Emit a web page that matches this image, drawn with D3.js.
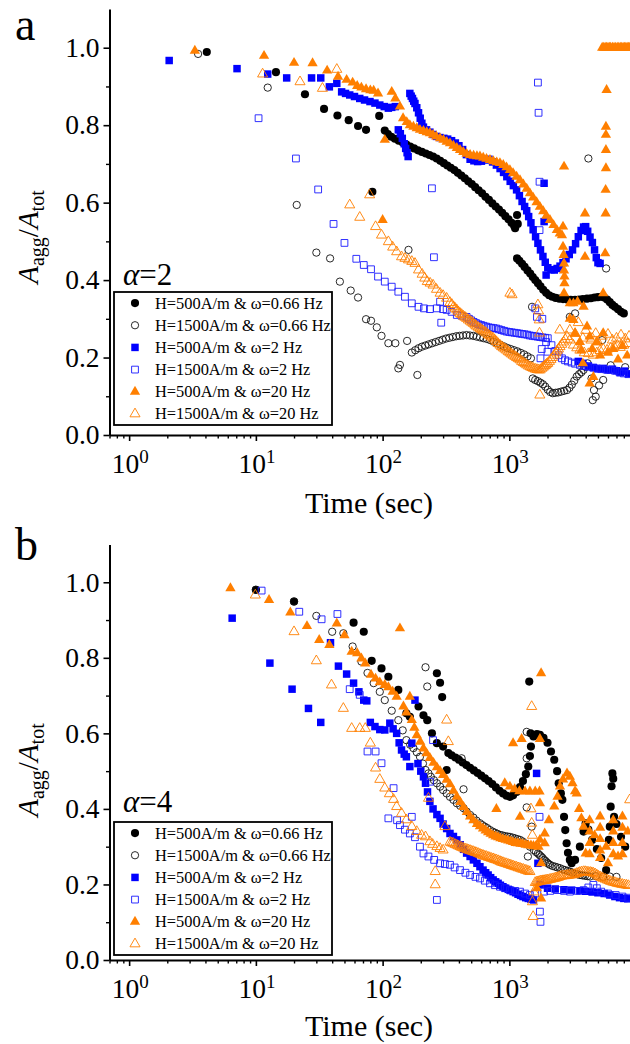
<!DOCTYPE html>
<html>
<head>
<meta charset="utf-8">
<script src="https://cdn.jsdelivr.net/npm/d3@7"></script>
<style>
body { margin: 0; background: #fff; }
svg { display: block; font-family: "Liberation Serif", "Times New Roman", serif; }
</style>
</head>
<body>
<svg width="630" height="1044"></svg>
<script>
// ---- data: [time (sec), A_agg/A_tot] ----

// panel a (alpha = 2)
const a_h500_w066 = [
  [4.1,0.989],[14.4,0.937],[24.4,0.880],[34.5,0.842],[44,0.825],[54,0.813],[64,0.798],[74,0.788],[83,0.628],[94,0.824],[104,0.786],
  [110,0.777],[117,0.770],[125,0.765],[134,0.760],[144,0.755],[154,0.750],[165,0.745],[177,0.740],[190,0.735],[204,0.731],[219,0.727],[234,0.723],[250,0.719],[267,0.714],[285,0.708],[304,0.702],[324,0.696],[345,0.690],[368,0.684],[392,0.677],[418,0.670],[445,0.663],[474,0.655],[505,0.648],[537,0.640],[572,0.632],[609,0.624],[648,0.615],[690,0.607],[734,0.598],[780,0.590],[828,0.582],[878,0.574],[930,0.565],[985,0.557],[1040,0.548],[1090,0.540],[1110,0.534],[1150,0.568],[1165,0.545],
  [1150,0.456],[1200,0.450],[1260,0.442],[1320,0.434],[1390,0.425],[1460,0.417],[1530,0.408],[1600,0.400],[1680,0.392],[1760,0.384],[1850,0.375],[1950,0.367],[2060,0.361],[2180,0.357],[2320,0.354],[2480,0.352],[2650,0.351],[2850,0.350],[3050,0.349],[3300,0.349],[3550,0.350],[3800,0.351],[4100,0.352],[4400,0.353],[4700,0.355],[5000,0.356],[5300,0.357],[5600,0.355],[5900,0.350],[6200,0.343],[6500,0.336],[6800,0.331],[7200,0.325],[7600,0.318],[8000,0.314]
];
const a_h1500_w066 = [
  [3.5,0.984],[12.4,0.897],[21,0.594],[30,0.471],[38.5,0.456],[46,0.396],[56,0.373],[64,0.355],[74,0.299],[81,0.295],[90,0.278],[98,0.256],[111,0.237],[126,0.237],[133,0.172],[137,0.181],[156,0.243],[160,0.478],[188,0.155],
  [170,0.213],[181,0.219],[192,0.224],[204,0.228],[217,0.231],[231,0.234],[246,0.237],[262,0.240],[279,0.243],[297,0.246],[316,0.249],[336,0.251],[358,0.253],[381,0.255],[405,0.256],[431,0.257],[459,0.258],[488,0.257],[519,0.256],[552,0.254],[587,0.252],[624,0.250],[664,0.248],[706,0.245],[751,0.241],[799,0.237],[850,0.233],[904,0.229],[961,0.225],[1022,0.222],[1087,0.219],[1156,0.216],[1230,0.212],[1308,0.208],[1391,0.203],[1480,0.198],
  [1510,0.331],[1530,0.146],[1600,0.142],[1680,0.139],[1760,0.135],[1840,0.131],[1920,0.125],[2010,0.117],[2100,0.111],[2200,0.108],[2310,0.109],[2430,0.110],[2560,0.112],[2700,0.114],[2850,0.116],[2980,0.122],[3110,0.130],[3250,0.140],[3400,0.151],[3550,0.157],[3700,0.162],[3850,0.168],[4000,0.176],[4150,0.185],
  [3000,0.305],[3300,0.314],[4200,0.714],[4450,0.146],[4550,0.090],[4650,0.116],[4800,0.099],[5100,0.128],[5500,0.142],[5400,0.245],[5800,0.430],[6300,0.180],[7200,0.165],[8200,0.175]
];
const a_h500_w2 = [
  [2.07,0.967],[7.1,0.946],[12.4,0.932],[17.5,0.922],[27.5,0.922],[32.5,0.922],[38,0.899],[43.5,0.908],[47.5,0.886],[51,0.882],[55,0.878],[60,0.874],[66,0.869],[72,0.865],[79.5,0.861],[87,0.857],[95,0.852],[103,0.848],[111,0.844],[118,0.846],[126,0.848],
  [133,0.788],[138,0.778],[143,0.766],[148,0.752],[152,0.740],[156,0.729],[159,0.719],
  [164,0.882],[168,0.875],[172,0.869],[176,0.862],[180,0.856],[186,0.845],[192,0.832],[198,0.818],[204,0.805],
  [210,0.795],[222,0.788],[236,0.782],[250,0.776],[266,0.771],[284,0.768],[304,0.766],[326,0.764],[350,0.760],[375,0.754],[400,0.747],[428,0.737],[458,0.724],[490,0.712],[525,0.708],[562,0.706],[602,0.707],[645,0.710],[690,0.712],[738,0.705],[790,0.697],[845,0.688],[900,0.678],[955,0.667],[1015,0.655],[1075,0.644],[1140,0.633],[1200,0.618],[1260,0.603],[1320,0.590],[1370,0.579],[1420,0.564],[1480,0.548],[1540,0.530],[1610,0.512],[1680,0.495],[1760,0.478],[1840,0.461],[1920,0.446],[2010,0.432],[2130,0.427],[2260,0.426],[2380,0.430],[2510,0.436],[2650,0.445],[2800,0.455],[2970,0.466],[3150,0.478],[3330,0.494],[3500,0.512],[3680,0.528],[3850,0.537],[4000,0.538],[4150,0.526],[4330,0.511],[4520,0.497],[4700,0.478],[4850,0.458],[5000,0.445],[5200,0.443],
  [1880,0.650],[1880,0.551],[1950,0.413],
  [3500,0.190],[3800,0.185],[4200,0.178],[4600,0.174],[5000,0.171],[5500,0.172],[6000,0.168],[6500,0.170],[7000,0.166],[7500,0.161],[8100,0.165],[8700,0.158]
];
const a_h1500_w2 = [
  [10.5,0.818],[20.7,0.714],[31,0.634],[41,0.545],[50,0.496],[62,0.455],[71,0.439],[81,0.428],[92,0.409],[104,0.396],[118,0.383],[133,0.370],[150,0.357],[170,0.340],[192,0.331],[212,0.327],[236,0.325],[245,0.637],[254,0.459],[268,0.327],[284,0.344],[290,0.290],[300,0.325],[320,0.323],[350,0.318],[385,0.310],[420,0.308],[460,0.305],
  [480,0.300],[500,0.296],[522,0.292],[545,0.289],[570,0.286],[597,0.284],[625,0.282],[655,0.280],[686,0.278],[718,0.277],[752,0.276],[788,0.275],[826,0.273],[866,0.271],[908,0.269],[952,0.267],[998,0.266],[1046,0.265],[1096,0.264],[1148,0.263],[1203,0.262],[1260,0.261],[1320,0.260],[1383,0.259],[1450,0.257],[1520,0.256],[1593,0.255],[1670,0.254],[1750,0.253],[1834,0.252],[1922,0.251],[2010,0.250],
  [1600,0.327],[1650,0.305],[1680,0.910],[1700,0.832],[1730,0.654],[1730,0.529],[1760,0.198],[1800,0.222],[1820,0.300],[1950,0.240],[2000,0.215],
  [2150,0.232],[2300,0.217],[2450,0.206],[2600,0.198],[2750,0.193],[2900,0.190],[3100,0.187],[3300,0.184],[3600,0.181],[3900,0.178],[4200,0.176],[4600,0.174],[4900,0.172],[5300,0.170],[5800,0.169],[6300,0.168],[6800,0.166],[7400,0.162],[8000,0.159],[8700,0.157]
];
const a_h500_w20 = [
  [3.3,0.992],[11.6,0.979],[20,0.961],[28,0.960],[36.5,0.941],[44.5,0.925],[52,0.917],[58,0.910],[63,0.901],[68,0.897],[74,0.893],[80,0.890],[85,0.889],[92,0.882],[100,0.555],[104,0.762],[118,0.886],[126,0.869],[137,0.848],[145,0.818],
  [155,0.808],[164,0.800],[175,0.796],[186,0.792],[197,0.788],[210,0.785],[223,0.782],[236,0.779],[250,0.775],[265,0.771],[284,0.766],[302,0.762],[320,0.757],[340,0.753],[362,0.747],[385,0.741],[408,0.736],[433,0.731],[460,0.726],[490,0.723],[522,0.721],[555,0.720],[586,0.719],[622,0.716],[660,0.713],[703,0.710],[748,0.707],[795,0.704],[843,0.702],[895,0.697],[950,0.691],[1010,0.684],[1070,0.676],[1140,0.667],[1213,0.658],[1290,0.647],[1370,0.636],[1453,0.624],[1540,0.613],[1640,0.601],[1742,0.589],[1850,0.578],[1960,0.566],[2090,0.555],[2230,0.542],[2370,0.529],[2500,0.520],[2600,0.516],
  [2650,0.538],[2700,0.693],[2650,0.486],[2680,0.465],[2700,0.443],[2700,0.425],[2720,0.409],[2720,0.392],[2700,0.366],[3000,0.340],[3200,0.340],[3450,0.344],[3200,0.297],[3300,0.262],[3950,0.572],[3950,0.460],[3850,0.331],[3700,0.219],[4300,0.254],[4300,0.133],[3800,0.185],[4600,0.150],
  [3000,0.300],[3600,0.240],[4100,0.280],[4500,0.222],[4900,0.240],[5200,0.205],[6000,0.212],[6600,0.222],[7200,0.195],[7800,0.230],[8500,0.205],
  [5500,0.366],[5500,0.263],[5700,0.469],[5750,0.572],[5750,0.633],[5780,0.689],[5780,0.736],[5780,0.775],[5780,0.796],[5850,0.891],
  [5400,1.0],[5550,1.0],[5700,1.0],[5850,1.0],[6000,1.0],[6150,1.0],[6300,1.0],[6500,1.0],[6700,1.0],[6900,1.0],[7100,1.0],[7300,1.0],[7500,1.0],[7700,1.0],[7900,1.0],[8100,1.0],[8300,1.0],[8500,1.0],[8700,1.0],[8900,1.0]
];
const a_h1500_w20 = [
  [11.3,0.932],[22.3,0.912],[33.5,0.895],[43.5,0.944],[55,0.594],[66,0.562],[79,0.620],[88,0.538],[98,0.516],[111,0.499],[120,0.485],[129,0.473],[141,0.460],[150,0.456],[160,0.452],[170,0.448],[180,0.443],[192,0.426],[205,0.415],[215,0.405],[225,0.396],[237,0.392],[250,0.387],[266,0.376],[284,0.366],[300,0.360],[320,0.353],[340,0.342],[352,0.337],[363,0.331],[374,0.327],[385,0.323],[396,0.318],[408,0.314],[420,0.311],[433,0.307],[446,0.304],[460,0.301],[475,0.297],[490,0.294],[505,0.291],[520,0.288],[535,0.284],[550,0.281],[568,0.278],[586,0.275],[603,0.272],[620,0.269],[640,0.266],[660,0.263],[680,0.259],[700,0.256],[722,0.253],[745,0.250],[767,0.245],[790,0.241],[816,0.236],[843,0.232],[869,0.228],[895,0.225],[922,0.222],[950,0.219],[980,0.215],[1010,0.212],[1040,0.209],[1070,0.206],[1105,0.203],[1140,0.200],[1175,0.197],[1213,0.194],[1250,0.190],[1290,0.187],[1330,0.184],[1370,0.181],[1415,0.178],[1460,0.176],[1505,0.174],[1550,0.172],[1600,0.170],[1650,0.169],[1700,0.168],[1750,0.168],[1800,0.172],[1850,0.175],[1890,0.178],[1930,0.180],[1970,0.183],[2010,0.185],[2070,0.190],[2130,0.195],[2190,0.200],[2260,0.206],[2320,0.212],[2380,0.217],[2440,0.222],[2510,0.228],[2590,0.234],[2680,0.240],[2760,0.247],[2850,0.254],[3000,0.245],[3200,0.232],[3400,0.225],[3600,0.219],[3900,0.212],[4200,0.210],[4600,0.206],[4900,0.212],[5200,0.218],[5500,0.222],[5900,0.219],[6300,0.224],[6700,0.228],[7100,0.232],[7500,0.226],[8000,0.232],[8600,0.236],
  [1010,0.366],[1050,0.362],[1680,0.336],[1700,0.320],[1720,0.297],[1730,0.263],[1740,0.103],
  [2500,0.271],[3000,0.271],[3300,0.262],[3500,0.290],[3800,0.250],[4000,0.270],[4400,0.245],[4500,0.250],[4800,0.262],[5000,0.240],[5400,0.255],[6000,0.260],[6500,0.245],[7000,0.250],[7600,0.258],[8200,0.248],[8800,0.255]
];

// panel b (alpha = 4)
const b_h500_w066 = [
  [10,0.980],[20,0.949],[59,0.893],[71,0.869],[82,0.792],[98,0.772],[111,0.750],[133,0.715],[154,0.653],[164,0.644],[192,0.671],[210,0.648],[225,0.635],[245,0.600],[268,0.574],[268,0.759],[284,0.734],[295,0.696],[300,0.565],[320,0.503],
  [330,0.548],[350,0.542],[375,0.536],[400,0.530],[428,0.523],[458,0.516],[490,0.509],[525,0.502],[562,0.495],[600,0.488],[642,0.481],[686,0.474],[733,0.466],[783,0.457],[836,0.448],[892,0.441],[950,0.435],[1010,0.432],[1070,0.436],[1140,0.445],[1213,0.458],[1280,0.474],[1350,0.492],[1410,0.512],[1453,0.540],[1480,0.565],[1470,0.600],[1435,0.737],[1550,0.592],[1650,0.598],[1742,0.596],[1860,0.588],[2000,0.575],[2130,0.552],[2260,0.530],[2380,0.500],[2450,0.468],[2550,0.441],[2620,0.424],[2700,0.379],[2760,0.344],[2830,0.309],[2900,0.284],[3000,0.265],[3100,0.256],[3300,0.265],[3600,0.300],[3850,0.340],[4000,0.362],[4200,0.345],[4500,0.318],[4900,0.294],[5300,0.270],[5800,0.238],[6100,0.318],[6200,0.353],[6300,0.406],[6400,0.460],[6500,0.494],[6600,0.480],[6700,0.379],[7000,0.360],[7600,0.326],[8200,0.300]
];
const b_h1500_w066 = [
  [10,0.980],[20,0.949],[30,0.911],[40,0.869],[49,0.865],[58,0.830],[68,0.790],[76,0.760],[85,0.733],[95,0.710],[104,0.688],[118,0.660],[133,0.635],[144,0.608],[154,0.582],[165,0.570],[175,0.561],[186,0.550],[197,0.538],[208,0.520],[218,0.503],[218,0.775],[225,0.724],[230,0.494],[240,0.485],[254,0.476],[268,0.468],[284,0.459],[300,0.450],[320,0.441],[340,0.432],[362,0.424],[385,0.415],[410,0.408],[420,0.534],[435,0.402],[435,0.452],[460,0.393],[490,0.384],[520,0.377],[550,0.369],[586,0.362],[612,0.357],[640,0.353],[670,0.349],[703,0.344],[736,0.340],[770,0.337],[806,0.334],[843,0.331],[880,0.330],[920,0.328],[965,0.327],[1010,0.326],[1060,0.324],[1110,0.322],[1160,0.320],[1213,0.318],[1270,0.314],[1330,0.309],[1370,0.404],[1370,0.534],[1370,0.604],[1400,0.274],[1453,0.300],[1500,0.353],[1560,0.291],[1620,0.286],[1680,0.282],[1730,0.278],[1780,0.274],[1830,0.270],[1880,0.265],[1930,0.262],[1980,0.258],[2030,0.255],[2090,0.252],[2190,0.249],[2300,0.247],[2400,0.245],[2510,0.243],[2630,0.240],[2750,0.238],[2880,0.236],[3006,0.234],[3150,0.231],[3300,0.229],[3450,0.227],[3606,0.225],[3780,0.224],[3950,0.223],[4130,0.222],[4325,0.221],[4800,0.222],[5500,0.220],[6200,0.221],[7000,0.220]
];
const b_h500_w2 = [
  [6.5,0.905],[12.9,0.786],[19.3,0.717],[26,0.666],[32.5,0.629],[38.8,0.840],[44.8,0.778],[52,0.757],[59,0.733],[65,0.710],[71,0.688],[75,0.686],[80,0.629],[87,0.618],[95,0.610],[104,0.609],[114,0.627],[121,0.612],[129,0.600],[135,0.575],[141,0.556],[148,0.545],[154,0.538],[164,0.512],[170,0.574],[180,0.688],[190,0.520],[200,0.500],[210,0.485],[218,0.468],[226,0.445],[236,0.420],[250,0.400],[268,0.385],[284,0.375],[300,0.360],[320,0.348],[340,0.335],[362,0.327],[385,0.318],[410,0.305],[435,0.293],[460,0.283],[490,0.274],[520,0.265],[555,0.256],[586,0.247],[620,0.238],[650,0.231],[680,0.225],[712,0.218],[745,0.212],[780,0.207],[815,0.203],[850,0.198],[890,0.194],[935,0.190],[980,0.187],[1025,0.184],[1070,0.181],[1120,0.178],[1170,0.174],[1225,0.171],[1280,0.168],[1345,0.165],[1410,0.163],[1480,0.161],[1550,0.159],[1640,0.494],[1680,0.256],[1750,0.200],
  [2000,0.190],[2300,0.188],[2700,0.186],[3100,0.185],[3600,0.183],[4000,0.182],[4500,0.180],[5000,0.178],[5600,0.176],[6200,0.172],[6800,0.168],[7400,0.165],[8000,0.163],[8600,0.162]
];
const b_h1500_w2 = [
  [11.1,0.978],[22,0.922],[33,0.902],[44,0.916],[55,0.717],[66,0.702],[76,0.552],[88,0.552],[98,0.521],[111,0.375],[122,0.455],[130,0.370],[137,0.357],[150,0.345],[164,0.335],[170,0.379],[180,0.325],[197,0.300],[210,0.282],[230,0.274],[250,0.582],[236,0.472],[255,0.265],[268,0.159],[284,0.256],[310,0.254],[340,0.252],[370,0.245],[408,0.238],[450,0.231],[490,0.225],[540,0.220],[586,0.216],[640,0.210],[703,0.203],[770,0.198],[843,0.194],[920,0.190],[1010,0.185],[1110,0.183],[1213,0.181],[1330,0.176],[1453,0.172],[1600,0.176],[1730,0.379],[1742,0.128],[1760,0.101],[1880,0.181],[2100,0.183],[2400,0.185],[2700,0.183],[3006,0.181],[3400,0.183],[3850,0.185],[4200,0.192],[4600,0.199],[4900,0.190],[5300,0.181],[6000,0.176],[6900,0.172],[7800,0.168],[8600,0.165]
];
const b_h500_w20 = [
  [6.3,0.984],[12.7,0.953],[18.7,0.920],[25.3,0.884],[31.6,0.847],[38,0.834],[43.5,0.891],[50,0.860],[57,0.816],[63,0.812],[68,0.798],[73,0.785],[81,0.755],[88,0.745],[95,0.735],[104,0.728],[111,0.722],[120,0.710],[129,0.697],[137,0.878],[146,0.671],[154,0.655],[164,0.697],[170,0.635],[178,0.615],[186,0.595],[198,0.578],[210,0.560],[222,0.547],[236,0.535],[252,0.522],[268,0.510],[284,0.500],[300,0.490],[320,0.477],[340,0.465],[362,0.448],[385,0.432],[410,0.418],[435,0.405],[462,0.392],[490,0.380],[520,0.370],[555,0.360],[586,0.354],[620,0.348],[650,0.343],[680,0.338],[712,0.334],[745,0.330],[780,0.327],[815,0.325],[850,0.322],[890,0.320],[935,0.318],[980,0.316],[1025,0.314],[1070,0.312],[1120,0.310],[1170,0.309],[1225,0.308],[1280,0.307],[1345,0.305],[1410,0.304],[1480,0.303],[1550,0.302],[1620,0.301],[1700,0.300],
  [790,0.400],[920,0.468],[1010,0.459],[1100,0.452],[1200,0.447],[1330,0.446],[1453,0.446],[1600,0.446],[1730,0.446],
  [1070,0.574],[1250,0.585],[1742,0.585],[1780,0.759],[1213,0.379],[1742,0.415],[1780,0.256],[1780,0.163],[1650,0.190],[1900,0.309],
  [1740,0.318],[1900,0.335],[2050,0.370],[2260,0.406],[2400,0.432],[2510,0.459],[2650,0.478],[2850,0.494],[3000,0.485],[3150,0.468],[3300,0.447],[3400,0.441],[3550,0.400],[3700,0.375],[3850,0.353],[4000,0.282],
  [4300,0.370],[4300,0.340],[4300,0.310],[4300,0.280],[5200,0.380],[5200,0.350],[5200,0.320],[5200,0.290],[5200,0.270],[6600,0.370],[6600,0.340],[6600,0.310],[6600,0.280],[7800,0.380],[7800,0.350],[7800,0.310],[7800,0.280],[4700,0.330],[5800,0.300],[6000,0.256],[7200,0.274],[8600,0.340]
];
const b_h1500_w20 = [
  [9.9,0.966],[20,0.869],[30,0.792],[39.5,0.728],[49,0.666],[57,0.613],[66,0.613],[73,0.613],[80,0.574],[88,0.508],[95,0.478],[104,0.455],[113,0.440],[122,0.425],[129,0.406],[141,0.388],[154,0.371],[170,0.353],[186,0.340],[203,0.330],[218,0.326],[230,0.428],[236,0.313],[248,0.306],[260,0.234],[260,0.199],[268,0.300],[284,0.295],[300,0.291],[310,0.353],[320,0.635],[330,0.578],
  [340,0.312],[350,0.310],[360,0.309],[372,0.306],[385,0.304],[396,0.302],[408,0.300],[421,0.298],[435,0.296],[448,0.294],[462,0.293],[476,0.291],[490,0.290],[505,0.288],[520,0.287],[535,0.285],[550,0.284],[568,0.282],[586,0.280],[603,0.278],[620,0.277],[640,0.275],[660,0.274],[680,0.272],[700,0.271],[722,0.269],[745,0.268],[767,0.266],[790,0.265],[816,0.263],[843,0.261],[866,0.259],[890,0.258],[920,0.256],[950,0.255],[980,0.253],[1010,0.252],[1040,0.250],[1070,0.249],[1105,0.247],[1140,0.246],[1175,0.244],[1213,0.243],[1250,0.241],[1290,0.240],[1330,0.238],[1370,0.237],[1410,0.235],[1453,0.234],
  [1500,0.671],[1480,0.400],[1500,0.362],[1520,0.330],[1520,0.154],[1540,0.115],[1560,0.180],
  [1600,0.205],[1640,0.206],[1680,0.207],[1720,0.208],[1760,0.209],[1800,0.209],[1840,0.210],[1880,0.210],[1920,0.211],[1965,0.211],[2010,0.212],[2070,0.213],[2130,0.214],[2190,0.215],[2260,0.216],[2320,0.217],[2380,0.218],[2440,0.219],[2510,0.221],[2590,0.222],[2680,0.223],[2760,0.223],[2850,0.224],[2920,0.224],[3000,0.225],[3100,0.225],[3200,0.226],[3300,0.227],[3400,0.229],[3500,0.230],[3600,0.232],[3720,0.233],[3850,0.234],[3970,0.234],[4100,0.233],[4220,0.232],[4350,0.232],[4470,0.231],[4600,0.230],[4750,0.228],[4900,0.225],[5050,0.222],[5200,0.220],[5350,0.218],[5500,0.216],[5700,0.214],[5900,0.212],[6100,0.210],[6300,0.208],[6550,0.206],[6800,0.205],[7050,0.203],[7300,0.202],[7550,0.201],[7800,0.200],[8100,0.199],[8400,0.198],[8700,0.197],[8900,0.424]
];

const legendLabels = [
  "H=500A/m & \u03c9=0.66 Hz",
  "H=1500A/m & \u03c9=0.66 Hz",
  "H=500A/m & \u03c9=2 Hz",
  "H=1500A/m & \u03c9=2 Hz",
  "H=500A/m & \u03c9=20 Hz",
  "H=1500A/m & \u03c9=20 Hz"
];
const xMajorTicks = [1, 10, 100, 1000];
const xTickExponents = ["0", "1", "2", "3"];
const xMinorTicks = [0.7, 0.8, 0.9, 2, 3, 4, 5, 6, 7, 8, 9, 20, 30, 40, 50, 60, 70, 80, 90,
  200, 300, 400, 500, 600, 700, 800, 900, 2000, 3000, 4000, 5000, 6000, 7000, 8000];
const yMajorTicks = [0, 0.2, 0.4, 0.6, 0.8, 1.0];
const yMinorTicks = [0.1, 0.3, 0.5, 0.7, 0.9];

// ---- drawing ----
const svg = d3.select("svg");
const width = +svg.attr("width");
const serif = '"Liberation Serif", "Times New Roman", serif';

const markerStyles = [
  { type: d3.symbolCircle,   size: 52, fill: "#000",    stroke: "none",    sw: 0 },
  { type: d3.symbolCircle,   size: 42, fill: "none",    stroke: "#111",    sw: 0.9 },
  { type: d3.symbolSquare,   size: 56, fill: "#0000ff", stroke: "none",    sw: 0 },
  { type: d3.symbolSquare,   size: 46, fill: "none",    stroke: "#1a1aff", sw: 0.9 },
  { type: d3.symbolTriangle, size: 46, fill: "#ff7f00", stroke: "none",    sw: 0 },
  { type: d3.symbolTriangle, size: 44, fill: "none",    stroke: "#ff7f00", sw: 0.9 }
];

const x = d3.scaleLog().domain([0.7, 8950]).range([109.5, width]);

const panels = [
  { letter: "a", alpha: "2", yTop: 9, yBottom: 435, letterY: 40, alphaY: 285,
    legendTop: 292, legendBottom: 425, tickLabelY: 473, titleY: 513, yTitleY: 237,
    series: [a_h500_w066, a_h1500_w066, a_h500_w2, a_h1500_w2, a_h500_w20, a_h1500_w20] },
  { letter: "b", alpha: "4", yTop: 544.5, yBottom: 960, letterY: 560, alphaY: 812,
    legendTop: 822, legendBottom: 955, tickLabelY: 998, titleY: 1036, yTitleY: 770,
    series: [b_h500_w066, b_h1500_w066, b_h500_w2, b_h1500_w2, b_h500_w20, b_h1500_w20] }
];

const drawPanel = p => {
  const y = d3.scaleLinear().domain([0, 1.1]).range([p.yBottom, p.yTop]);
  const g = svg.append("g");

  // data points, drawn in legend order
  p.series.forEach((data, i) => {
    const st = markerStyles[i];
    const sym = d3.symbol().type(st.type).size(st.size)();
    g.append("g").selectAll("path").data(data)
      .join("path")
        .attr("d", sym)
        .attr("transform", d => `translate(${x(d[0])},${y(d[1])})`)
        .attr("fill", st.fill)
        .attr("stroke", st.stroke)
        .attr("stroke-width", st.sw);
  });

  // y axis
  const yAxisG = g.append("g")
    .attr("transform", `translate(${x.range()[0]},0)`)
    .call(d3.axisLeft(y).tickValues(yMajorTicks).tickFormat(d3.format(".1f"))
      .tickSize(6).tickSizeOuter(0).tickPadding(4));
  yAxisG.attr("font-family", serif).attr("font-size", 27.5);
  yAxisG.select(".domain").attr("stroke-width", 2);
  yAxisG.selectAll(".tick line").attr("stroke-width", 1.6);
  yAxisG.selectAll(".tick text").attr("fill", "#000");

  g.append("g")
    .attr("transform", `translate(${x.range()[0]},0)`)
    .call(d3.axisLeft(y).tickValues(yMinorTicks).tickFormat("").tickSize(3.5).tickSizeOuter(0))
    .call(a => a.select(".domain").remove())
    .selectAll(".tick line").attr("stroke-width", 1.4);

  // x axis
  const xAxisG = g.append("g")
    .attr("transform", `translate(0,${p.yBottom})`)
    .call(d3.axisBottom(x).tickValues(xMajorTicks).tickFormat("").tickSize(6).tickSizeOuter(0));
  xAxisG.select(".domain").attr("stroke-width", 2);
  xAxisG.selectAll(".tick line").attr("stroke-width", 1.6);

  g.append("g")
    .attr("transform", `translate(0,${p.yBottom})`)
    .call(d3.axisBottom(x).tickValues(xMinorTicks).tickFormat("").tickSize(3.5).tickSizeOuter(0))
    .call(a => a.select(".domain").remove())
    .selectAll(".tick line").attr("stroke-width", 1.4);

  // x tick labels 10^n
  const lbl = g.append("g").selectAll("text").data(xMajorTicks)
    .join("text")
      .attr("x", d => x(d) + 1)
      .attr("y", p.tickLabelY)
      .attr("text-anchor", "middle")
      .attr("font-family", serif)
      .attr("font-size", 27.5);
  lbl.append("tspan").text("10");
  lbl.append("tspan").attr("dy", -10).attr("font-size", 19).text((d, i) => xTickExponents[i]);

  // axis titles
  g.append("text")
    .attr("x", 369)
    .attr("y", p.titleY)
    .attr("text-anchor", "middle")
    .attr("font-family", serif)
    .attr("font-size", 30)
    .text("Time (sec)");

  const yt = g.append("text")
    .attr("transform", `translate(38,${p.yTitleY}) rotate(-90)`)
    .attr("text-anchor", "middle")
    .attr("font-family", serif)
    .attr("font-size", 29);
  yt.append("tspan").attr("font-style", "italic").text("A");
  yt.append("tspan").attr("font-size", 20).attr("dy", 6).text("agg");
  yt.append("tspan").attr("dy", -6).text("/");
  yt.append("tspan").attr("font-style", "italic").text("A");
  yt.append("tspan").attr("font-size", 20).attr("dy", 6).text("tot");

  // panel letter and alpha
  g.append("text")
    .attr("x", 15)
    .attr("y", p.letterY)
    .attr("font-family", serif)
    .attr("font-size", 46)
    .text(p.letter);

  const al = g.append("text")
    .attr("x", 123)
    .attr("y", p.alphaY)
    .attr("font-family", serif)
    .attr("font-size", 31);
  al.append("tspan").attr("font-style", "italic").text("\u03b1");
  al.append("tspan").text("=" + p.alpha);

  // legend
  const lg = g.append("g");
  lg.append("rect")
    .attr("x", 114)
    .attr("y", p.legendTop)
    .attr("width", 218)
    .attr("height", p.legendBottom - p.legendTop)
    .attr("fill", "#fff")
    .attr("stroke", "#000")
    .attr("stroke-width", 1.8);

  const rowH = (p.legendBottom - p.legendTop) / 6;
  legendLabels.forEach((label, i) => {
    const cy = p.legendTop + rowH * (i + 0.5);
    const st = markerStyles[i];
    lg.append("path")
      .attr("d", d3.symbol().type(st.type).size(st.size)())
      .attr("transform", `translate(135,${cy})`)
      .attr("fill", st.fill)
      .attr("stroke", st.stroke)
      .attr("stroke-width", st.sw);
    lg.append("text")
      .attr("x", 155)
      .attr("y", cy + 5.5)
      .attr("font-family", serif)
      .attr("font-size", 16.4)
      .text(label);
  });
};

panels.forEach(drawPanel);
</script>
</body>
</html>
